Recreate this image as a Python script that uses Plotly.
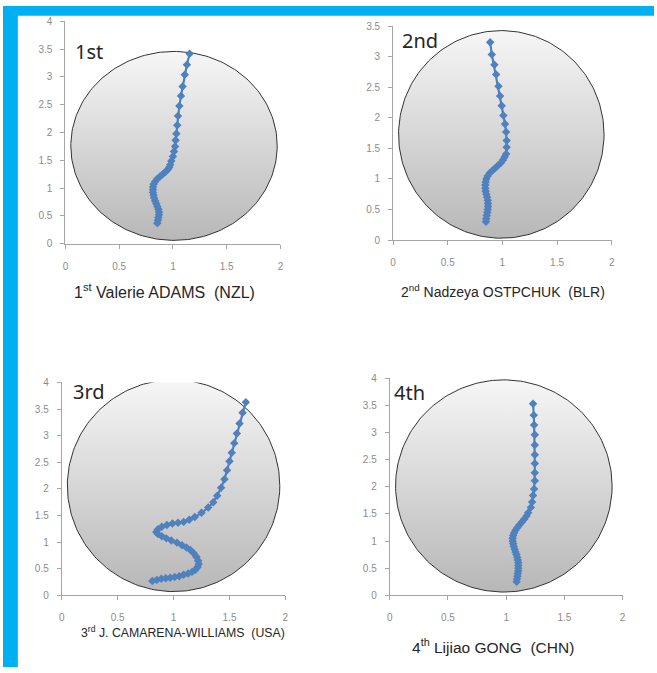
import numpy as np
import plotly.graph_objects as go

# ---------------- data ----------------
ranks = ["1st", "2nd", "3rd", "4th"]
athletes = [
    "1<sup>st</sup> Valerie ADAMS  (NZL)",
    "2<sup>nd</sup> Nadzeya OSTPCHUK  (BLR)",
    "3<sup>rd</sup> J. CAMARENA-WILLIAMS  (USA)",
    "4<sup>th</sup> Lijiao GONG  (CHN)",
]

adams_x = [0.855, 0.86, 0.865, 0.87, 0.87, 0.865, 0.855, 0.845, 0.835, 0.825, 0.82, 0.815, 0.815, 0.815,
           0.82, 0.835, 0.855, 0.88, 0.905, 0.93, 0.95, 0.965, 0.975, 0.985, 1.0, 1.01, 1.02, 1.025,
           1.032, 1.04, 1.047, 1.06, 1.075, 1.09, 1.11, 1.13, 1.155]
adams_y = [0.37, 0.42, 0.47, 0.52, 0.57, 0.62, 0.67, 0.72, 0.77, 0.82, 0.87, 0.92, 0.97, 1.02,
           1.07, 1.12, 1.17, 1.21, 1.25, 1.29, 1.33, 1.37, 1.42, 1.49, 1.57, 1.66, 1.75, 1.86,
           1.98, 2.13, 2.30, 2.48, 2.66, 2.83, 3.04, 3.22, 3.42]

ostapchuk_x = [0.85, 0.852, 0.857, 0.862, 0.866, 0.868, 0.868, 0.866, 0.86, 0.853, 0.847, 0.844, 0.844,
               0.847, 0.853, 0.865, 0.885, 0.91, 0.935, 0.96, 0.985, 1.005, 1.02, 1.034, 1.039, 1.039,
               1.034, 1.024, 1.009, 0.994, 0.979, 0.964, 0.943, 0.927, 0.903, 0.888]
ostapchuk_y = [0.30, 0.35, 0.40, 0.45, 0.50, 0.55, 0.60, 0.65, 0.70, 0.75, 0.80, 0.85, 0.90,
               0.95, 1.00, 1.05, 1.10, 1.14, 1.18, 1.22, 1.26, 1.31, 1.36, 1.41, 1.52, 1.63,
               1.77, 1.90, 2.04, 2.20, 2.36, 2.52, 2.71, 2.87, 3.04, 3.24]

camarena_x = [0.81, 0.85, 0.89, 0.93, 0.97, 1.01, 1.05, 1.09, 1.13, 1.165, 1.195, 1.215, 1.225, 1.22,
              1.205, 1.18, 1.15, 1.115, 1.075, 1.03, 0.98, 0.935, 0.895, 0.86, 0.845, 0.86, 0.895,
              0.94, 0.99, 1.04, 1.09, 1.14, 1.19, 1.25, 1.31, 1.355, 1.39, 1.425, 1.455, 1.478,
              1.50, 1.52, 1.543, 1.566, 1.59, 1.617, 1.646]
camarena_y = [0.27, 0.29, 0.31, 0.32, 0.33, 0.345, 0.36, 0.385, 0.41, 0.44, 0.48, 0.53, 0.59, 0.65,
              0.72, 0.79, 0.85, 0.90, 0.94, 0.99, 1.03, 1.07, 1.11, 1.15, 1.19, 1.24, 1.29,
              1.32, 1.35, 1.365, 1.38, 1.42, 1.47, 1.55, 1.65, 1.75, 1.87, 2.02, 2.18, 2.35,
              2.52, 2.68, 2.86, 3.04, 3.23, 3.43, 3.63]

gong_x = [1.09, 1.093, 1.097, 1.10, 1.103, 1.104, 1.104, 1.104, 1.10, 1.095, 1.088, 1.08, 1.073,
          1.065, 1.06, 1.056, 1.056, 1.06, 1.068, 1.08, 1.097, 1.115, 1.135, 1.155, 1.175, 1.189,
          1.212, 1.223, 1.231, 1.24, 1.246, 1.246, 1.246, 1.246, 1.246, 1.246, 1.24, 1.237, 1.231]
gong_y = [0.25, 0.30, 0.35, 0.40, 0.45, 0.50, 0.55, 0.60, 0.65, 0.70, 0.75, 0.80, 0.85,
          0.90, 0.95, 1.00, 1.05, 1.10, 1.15, 1.20, 1.25, 1.30, 1.35, 1.40, 1.46, 1.52,
          1.62, 1.72, 1.84, 1.96, 2.11, 2.26, 2.43, 2.59, 2.77, 2.96, 3.14, 3.32, 3.53]

series_x = [adams_x, ostapchuk_x, camarena_x, gong_x]
series_y = [adams_y, ostapchuk_y, camarena_y, gong_y]
y_max = [4, 3.5, 4, 4]

# ---------------- layout (pixel geometry of the 657x673 canvas) ----------------
W, H = 657, 673
panels = [
    dict(x=(63, 280), y=(242, 15.7), circle=(1.01, 1.76, 0.96, 1.70), rank=(71, 46),
         label=(70, 290), label_size=16),
    dict(x=(393.7, 614.3), y=(238.3, 20.7), circle=(0.99, 1.73, 0.94, 1.70), rank=(401, 35),
         label=(400, 290), label_size=14),
    dict(x=(59.3, 285), y=(600, 383.3), circle=(1.0, 2.06, 0.95, 1.99), rank=(69, 392),
         label=(77, 637), label_size=12.3),
    dict(x=(390.3, 625.3), y=(600, 379), circle=(0.98, 2.015, 0.93, 1.955), rank=(393, 394),
         label=(411, 652), label_size=15.5),
]

BLUE = "#4F81BD"
AXIS = "#a6a6a6"

fig = go.Figure()
t = np.linspace(0, 2 * np.pi, 241)

for i, p in enumerate(panels):
    xa = "x" if i == 0 else f"x{i+1}"
    ya = "y" if i == 0 else f"y{i+1}"
    cx, cy, rx, ry = p["circle"]
    # gradient-filled background disc
    fig.add_trace(go.Scatter(
        x=cx + rx * np.cos(t), y=cy + ry * np.sin(t), mode="lines",
        line=dict(color="#333333", width=1), fill="toself",
        fillgradient=dict(type="vertical", start=cy - ry, stop=cy + ry,
                          colorscale=[[0, "#b6b6b6"], [1, "#f6f6f6"]]),
        hoverinfo="skip", showlegend=False, xaxis=xa, yaxis=ya))
    fig.add_trace(go.Scatter(
        x=series_x[i], y=series_y[i], mode="lines+markers",
        line=dict(color=BLUE, width=2.2),
        marker=dict(symbol="diamond", size=6.5, color=BLUE),
        showlegend=False, xaxis=xa, yaxis=ya))

    sfx = "" if i == 0 else str(i + 1)
    ax_common = dict(showgrid=False, zeroline=False, showline=True, linecolor=AXIS, linewidth=1,
                     ticks="outside", ticklen=4, tickcolor=AXIS, dtick=0.5,
                     tickfont=dict(family="Liberation Sans", size=10, color="#8c8c8c"))
    fig.layout["xaxis" + sfx] = dict(ax_common, range=[0, 2], tick0=0,
                                     domain=[p["x"][0] / W, p["x"][1] / W],
                                     anchor=ya, ticklabelstandoff=9)
    fig.layout["yaxis" + sfx] = dict(ax_common, range=[0, y_max[i]], tick0=0,
                                     domain=[(H - p["y"][0]) / H, (H - p["y"][1]) / H],
                                     anchor=xa, ticklabelstandoff=6)

    fig.add_annotation(text=ranks[i], xref="paper", yref="paper",
                       x=p["rank"][0] / W, y=(H - p["rank"][1]) / H,
                       xanchor="left", yanchor="middle",
                       showarrow=False, font=dict(family="Noto Sans", size=20, color="#262626"))
    fig.add_annotation(text=athletes[i], xref="paper", yref="paper",
                       x=p["label"][0] / W, y=(H - p["label"][1]) / H,
                       xanchor="left", yanchor="middle", showarrow=False,
                       font=dict(family="Liberation Sans", size=p["label_size"], color="#262626"))

# blue frame bands (top and left)
fig.add_shape(type="rect", xref="paper", yref="paper", x0=0, x1=1, y0=(H - 10) / H, y1=1,
              fillcolor="#00B0F0", line=dict(width=0), layer="below")
fig.add_shape(type="rect", xref="paper", yref="paper", x0=0, x1=15 / W, y0=0, y1=1,
              fillcolor="#00B0F0", line=dict(width=0), layer="below")

fig.update_layout(width=W, height=H, margin=dict(l=0, r=0, t=0, b=0),
                  paper_bgcolor="white", plot_bgcolor="rgba(0,0,0,0)", showlegend=False)

fig.write_html("out.html", config={"displayModeBar": False},
               post_script="document.body.style.margin='0';document.body.style.overflow='hidden';")
